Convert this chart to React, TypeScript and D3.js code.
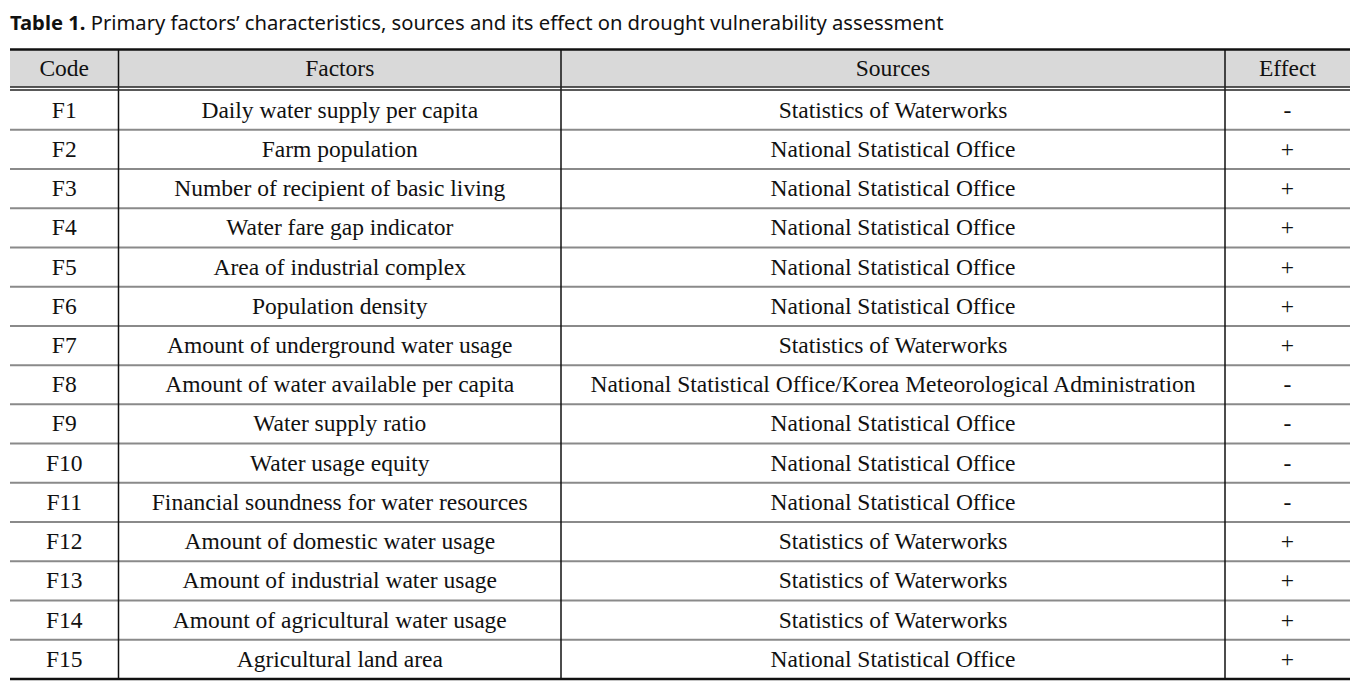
import React from "react";
import * as d3 from "d3";

const codes = ["F1","F2","F3","F4","F5","F6","F7","F8","F9","F10","F11","F12","F13","F14","F15"];
const factors = [
  "Daily water supply per capita",
  "Farm population",
  "Number of recipient of basic living",
  "Water fare gap indicator",
  "Area of industrial complex",
  "Population density",
  "Amount of underground water usage",
  "Amount of water available per capita",
  "Water supply ratio",
  "Water usage equity",
  "Financial soundness for water resources",
  "Amount of domestic water usage",
  "Amount of industrial water usage",
  "Amount of agricultural water usage",
  "Agricultural land area",
];
const sources = [
  "Statistics of Waterworks",
  "National Statistical Office",
  "National Statistical Office",
  "National Statistical Office",
  "National Statistical Office",
  "National Statistical Office",
  "Statistics of Waterworks",
  "National Statistical Office/Korea Meteorological Administration",
  "National Statistical Office",
  "National Statistical Office",
  "National Statistical Office",
  "Statistics of Waterworks",
  "Statistics of Waterworks",
  "Statistics of Waterworks",
  "National Statistical Office",
];
const effects = ["-","+","+","+","+","+","+","-","-","-","-","+","+","+","+"];
const headers = ["Code", "Factors", "Sources", "Effect"];
const colEdges = [10, 118.5, 561, 1225, 1350];

export default function App() {
  const W = 1369, H = 682;
  const top = 49.5, headBottom = 87, bodyTop = 90.5, bottom = 679;
  const y = d3.scaleBand<number>().domain(d3.range(codes.length)).range([bodyTop, bottom]).paddingInner(0);
  const cols = [codes, factors, sources, effects];
  const serif = "'Liberation Serif', 'Times New Roman', serif";
  const fs = 23.5;
  const centers = colEdges.slice(0, -1).map((x, i) => (x + colEdges[i + 1]) / 2);
  return (
    <svg width={W} height={H} style={{ position: "absolute", left: 0, top: 0, background: "#fff" }}>
      <text x={10} y={30} fontFamily="'Noto Sans', 'DejaVu Sans', sans-serif" fontSize={20.2} fill="#111">
        <tspan fontWeight="bold">Table 1.</tspan>
        <tspan> Primary factors’ characteristics, sources and its effect on drought vulnerability assessment</tspan>
      </text>
      <rect x={colEdges[0]} y={top} width={colEdges[4] - colEdges[0]} height={headBottom - top} fill="#d9d9d9" />
      {headers.map((h, i) => (
        <text key={h} x={centers[i]} y={(top + headBottom) / 2 + 7.8} textAnchor="middle" fontFamily={serif} fontSize={fs} fill="#111">{h}</text>
      ))}
      {d3.range(codes.length).map((r) => (
        <g key={r}>
          {r > 0 && (
            <line x1={colEdges[0]} x2={colEdges[4]} y1={y(r)!} y2={y(r)!} stroke="#8a8a8a" strokeWidth={2} />
          )}
          {cols.map((c, i) => (
            <text key={i} x={centers[i]} y={y(r)! + y.bandwidth() / 2 + 7.5} textAnchor="middle" fontFamily={serif} fontSize={fs} fill="#111">{c[r]}</text>
          ))}
        </g>
      ))}
      {colEdges.slice(1, -1).map((x, i) => (
        <line key={i} x1={x} x2={x} y1={top} y2={bottom} stroke="#111" strokeWidth={1.5} />
      ))}
      <line x1={colEdges[0]} x2={colEdges[4]} y1={top} y2={top} stroke="#111" strokeWidth={2.5} />
      <line x1={colEdges[0]} x2={colEdges[4]} y1={87} y2={87} stroke="#222" strokeWidth={1.3} />
      <line x1={colEdges[0]} x2={colEdges[4]} y1={90} y2={90} stroke="#222" strokeWidth={1.3} />
      <line x1={colEdges[0]} x2={colEdges[4]} y1={bottom} y2={bottom} stroke="#111" strokeWidth={2.5} />
    </svg>
  );
}
